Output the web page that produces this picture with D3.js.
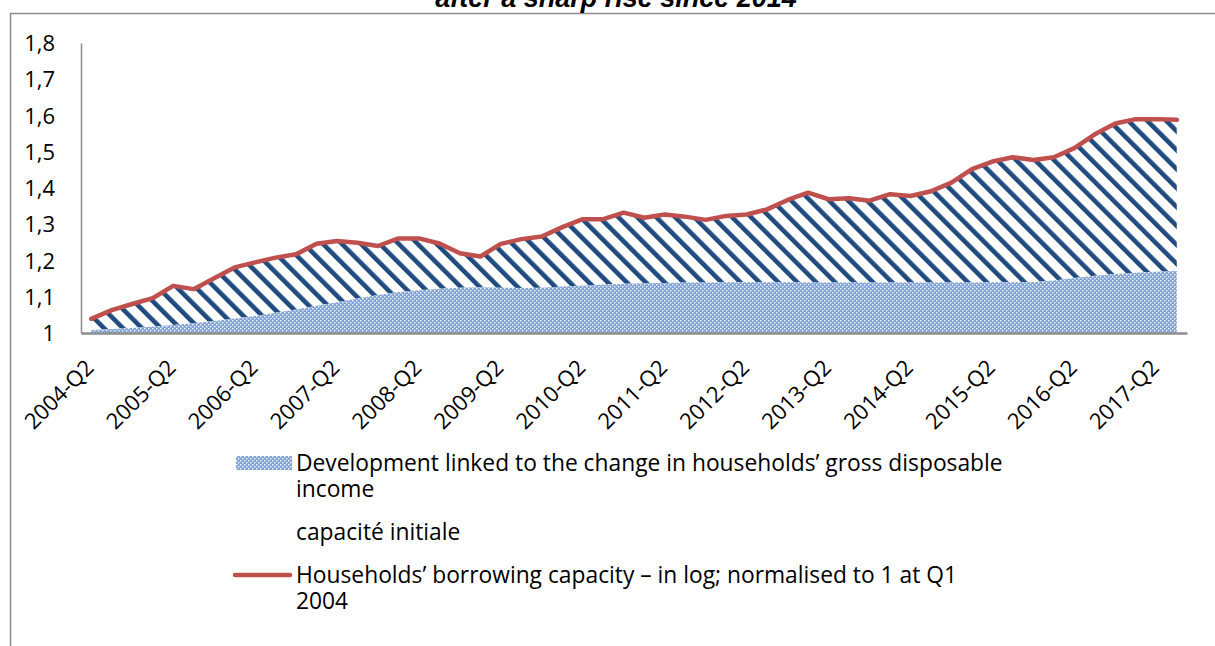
<!DOCTYPE html>
<html>
<head>
<meta charset="utf-8">
<script src="https://cdn.jsdelivr.net/npm/d3@7"></script>
<style>
  body { margin: 0; background: #fff; }
  svg text { font-family: "Open Sans", Lato, sans-serif; fill: #000; }
</style>
</head>
<body>
<div id="container"></div>
<script>
let quarters = [
  '2004-Q2','2004-Q3','2004-Q4','2005-Q1','2005-Q2','2005-Q3','2005-Q4','2006-Q1',
  '2006-Q2','2006-Q3','2006-Q4','2007-Q1','2007-Q2','2007-Q3','2007-Q4','2008-Q1',
  '2008-Q2','2008-Q3','2008-Q4','2009-Q1','2009-Q2','2009-Q3','2009-Q4','2010-Q1',
  '2010-Q2','2010-Q3','2010-Q4','2011-Q1','2011-Q2','2011-Q3','2011-Q4','2012-Q1',
  '2012-Q2','2012-Q3','2012-Q4','2013-Q1','2013-Q2','2013-Q3','2013-Q4','2014-Q1',
  '2014-Q2','2014-Q3','2014-Q4','2015-Q1','2015-Q2','2015-Q3','2015-Q4','2016-Q1',
  '2016-Q2','2016-Q3','2016-Q4','2017-Q1','2017-Q2','2017-Q3'
]

// borrowing capacity (red line)
let capacity = [
  1.039, 1.063, 1.080, 1.096, 1.130, 1.121, 1.151, 1.181,
  1.195, 1.208, 1.217, 1.246, 1.254, 1.249, 1.240, 1.261,
  1.261, 1.247, 1.220, 1.211, 1.246, 1.259, 1.266, 1.292,
  1.314, 1.314, 1.332, 1.318, 1.327, 1.321, 1.312, 1.323,
  1.327, 1.341, 1.367, 1.387, 1.369, 1.372, 1.365, 1.383,
  1.378, 1.391, 1.415, 1.452, 1.473, 1.485, 1.477, 1.485,
  1.510, 1.548, 1.578, 1.590, 1.590, 1.588
]

// part linked to gross disposable income (dotted area)
let income = [
  1.008, 1.011, 1.014, 1.018, 1.022, 1.027, 1.033, 1.040,
  1.047, 1.056, 1.065, 1.075, 1.085, 1.095, 1.105, 1.113,
  1.118, 1.122, 1.125, 1.126, 1.125, 1.124, 1.125, 1.128,
  1.131, 1.134, 1.136, 1.137, 1.138, 1.139, 1.139, 1.140,
  1.140, 1.140, 1.140, 1.139, 1.139, 1.139, 1.139, 1.139,
  1.139, 1.139, 1.139, 1.139, 1.140, 1.140, 1.141, 1.145,
  1.152, 1.158, 1.163, 1.166, 1.169, 1.171
]

// initial capacity
let base = 1

let yTicks = [1, 1.1, 1.2, 1.3, 1.4, 1.5, 1.6, 1.7, 1.8]

let legendLabels = [
  ['Development linked to the change in households\u2019 gross disposable', 'income'],
  ['capacit\u00e9 initiale'],
  ['Households\u2019 borrowing capacity \u2013 in log; normalised to 1 at Q1', '2004']
]

let svgWidth = 1215;
let svgHeight = 646;
let plotLeft = 81, plotRight = 1187, plotTop = 43, plotBottom = 333;

let svg = d3.select('#container')
            .append('svg')
            .attr('width', svgWidth)
            .attr('height', svgHeight);

let defs = svg.append('defs');

let dots = defs.append('pattern')
    .attr('id', 'dots')
    .attr('patternUnits', 'userSpaceOnUse')
    .attr('width', 4).attr('height', 4);
dots.append('rect').attr('width', 4).attr('height', 4).attr('fill', '#84a4d9');
dots.append('rect').attr('x', 0).attr('y', 0).attr('width', 1.4).attr('height', 1.4).attr('fill', '#f4f7fc');
dots.append('rect').attr('x', 2).attr('y', 2).attr('width', 1.4).attr('height', 1.4).attr('fill', '#f4f7fc');

let hatch = defs.append('pattern')
    .attr('id', 'hatch')
    .attr('patternUnits', 'userSpaceOnUse')
    .attr('width', 13.4).attr('height', 13.4)
    .attr('patternTransform', 'rotate(-45)');
hatch.append('rect').attr('width', 13.4).attr('height', 13.4).attr('fill', '#fff');
hatch.append('rect').attr('width', 4.6).attr('height', 13.4).attr('fill', '#1f4b80');

// frame
svg.append('path')
   .attr('d', 'M10.5,' + svgHeight + 'V13.5H' + svgWidth)
   .attr('fill', 'none')
   .attr('stroke', '#8c8c8c')
   .attr('stroke-width', 1.5);

// title (cut off at the top, as in the source)
svg.append('text')
   .attr('x', 616).attr('y', 7)
   .attr('text-anchor', 'middle')
   .style('font-family', '"Liberation Sans", Arial, sans-serif')
   .style('font-weight', 'bold')
   .style('font-style', 'italic')
   .style('font-size', '27px')
   .text('after a sharp rise since 2014');

let x = d3.scaleBand()
          .domain(quarters)
          .range([plotLeft, plotRight]);
let xc = d => x(d) + x.bandwidth() / 2;

let y = d3.scaleLinear()
          .domain([1, 1.8])
          .range([plotBottom, plotTop]);

let rows = quarters.map((q, i) => ({q: q, cap: capacity[i], inc: income[i]}));

let incomeArea = d3.area()
    .x(d => xc(d.q))
    .y0(y(base))
    .y1(d => y(d.inc));

let hatchArea = d3.area()
    .x(d => xc(d.q))
    .y0(d => y(d.inc))
    .y1(d => y(d.cap));

svg.append('path').datum(rows).attr('d', hatchArea).attr('fill', 'url(#hatch)');
svg.append('path').datum(rows).attr('d', incomeArea).attr('fill', 'url(#dots)');

svg.append('path')
   .datum(rows)
   .attr('d', d3.line().x(d => xc(d.q)).y(d => y(d.cap)))
   .attr('fill', 'none')
   .attr('stroke', '#c0504d')
   .attr('stroke-width', 4.5)
   .attr('stroke-linejoin', 'round')
   .attr('stroke-linecap', 'round');

// y axis
let yAxis = svg.append('g')
   .attr('transform', 'translate(' + plotLeft + ',0)')
   .call(d3.axisLeft(y).tickValues(yTicks).tickSize(0).tickPadding(26)
           .tickFormat(d => d3.format('.1f')(d).replace('.', ',').replace(',0', '')));
yAxis.select('.domain').attr('stroke', '#8c8c8c').attr('stroke-width', 1.5);
yAxis.selectAll('text').style('font-size', '22px').attr('dy', '0.35em');

// x axis
let xAxis = svg.append('g')
   .attr('transform', 'translate(0,' + plotBottom + ')')
   .call(d3.axisBottom(x).tickValues(quarters.filter(q => q.endsWith('Q2'))).tickSize(0));
xAxis.select('.domain').attr('stroke', '#8c8c8c').attr('stroke-width', 2.5);
xAxis.selectAll('text')
     .style('font-size', '22px')
     .attr('text-anchor', 'end')
     .attr('dy', null)
     .attr('y', 0)
     .attr('transform', 'translate(4,36) rotate(-45)');

// legend
let legend = svg.append('g');
let legendY = [463, 532, 575];

legend.append('rect')
      .attr('x', 236).attr('y', legendY[0] - 7)
      .attr('width', 56).attr('height', 14)
      .attr('fill', 'url(#dots)');
legend.append('line')
      .attr('x1', 235).attr('x2', 290)
      .attr('y1', legendY[2]).attr('y2', legendY[2])
      .attr('stroke', '#c0504d').attr('stroke-width', 4.5)
      .attr('stroke-linecap', 'round');

legendLabels.forEach((lines, k) => {
  lines.forEach((s, j) => {
    legend.append('text')
          .attr('x', 296)
          .attr('y', legendY[k] + j * 26)
          .attr('dy', '0.35em')
          .style('font-size', '22.8px')
          .text(s);
  });
});
</script>
</body>
</html>
